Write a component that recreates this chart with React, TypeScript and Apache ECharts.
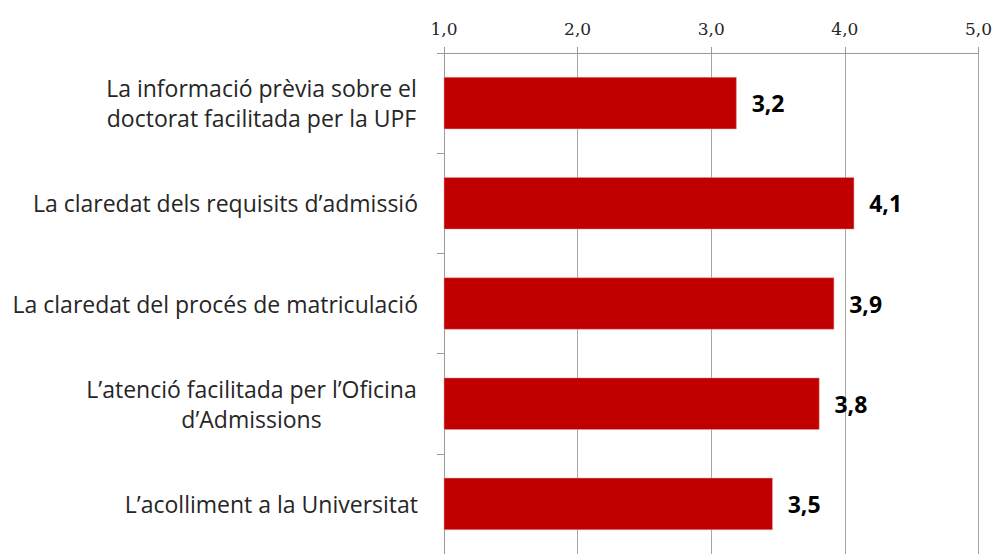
import React, { useEffect, useRef } from "react";
import * as echarts from "echarts";

const categories: string[] = [
  "La informació prèvia sobre el\ndoctorat facilitada per la UPF",
  "La claredat dels requisits d’admissió",
  "La claredat del procés de matriculació",
  "L’atenció facilitada per l’Oficina\nd’Admissions",
  "L’acolliment a la Universitat",
];
const values: number[] = [3.19, 4.07, 3.92, 3.81, 3.46];
const tickMin = 1;
const tickMax = 5;
const tickStep = 1;

const catFamily = "Open Sans";
const catSize = 23;
const catFont = `${catSize}px "${catFamily}"`;

function measure(text: string, font: string): number {
  const c = document.createElement("canvas");
  const ctx = c.getContext("2d");
  if (!ctx) return text.length * 10;
  ctx.font = font;
  return ctx.measureText(text).width;
}

const fmt = (v: number) => v.toFixed(1).replace(".", ",");

export default function App() {
  const ref = useRef<HTMLDivElement>(null);
  useEffect(() => {
    if (!ref.current) return;
    const chart = echarts.init(ref.current, undefined, { renderer: "svg" });
    const widthOf = (s: string) =>
      Math.ceil(Math.max(...s.split("\n").map((l) => measure(l, catFont)))) + 2;
    const catLabel = (s: string) => {
      const lines = s.split("\n");
      if (lines.length === 1) return s;
      const w = widthOf(s);
      return lines.map((l) => `{c${w}|${l}}`).join("\n");
    };
    const rich: Record<string, any> = {};
    categories.forEach((s) => {
      if (s.split("\n").length > 1) {
        const w = widthOf(s);
        rich["c" + w] = {
          width: w,
          align: "center",
          fontFamily: catFamily,
          fontSize: catSize,
          lineHeight: 30,
          color: "#262626",
        };
      }
    });
    chart.setOption({
      animation: false,
      backgroundColor: "#ffffff",
      grid: { left: 444, top: 53, right: 14, bottom: -8, containLabel: false },
      xAxis: {
        type: "value",
        position: "top",
        min: tickMin,
        max: tickMax,
        interval: tickStep,
        axisLine: { show: true, lineStyle: { color: "#9a9a9a", width: 1 } },
        axisTick: { show: true, length: 6, lineStyle: { color: "#9a9a9a" } },
        splitLine: { show: true, lineStyle: { color: "#a6a6a6", width: 1 } },
        axisLabel: {
          formatter: (v: number) => fmt(v),
          fontFamily: "DejaVu Serif",
          fontSize: 17,
          color: "#262626",
          margin: 16,
        },
      },
      yAxis: {
        type: "category",
        inverse: true,
        data: categories,
        axisLine: { show: true, lineStyle: { color: "#9a9a9a", width: 1 } },
        axisTick: { show: true, length: 7, lineStyle: { color: "#9a9a9a" } },
        axisLabel: {
          formatter: (s: string) => catLabel(s),
          rich,
          fontFamily: catFamily,
          fontSize: catSize,
          lineHeight: 30,
          color: "#262626",
          margin: 26,
          align: "right",
        },
      },
      series: [
        {
          type: "bar",
          data: values,
          barCategoryGap: "48%",
          itemStyle: { color: "#C00000", borderColor: "#e8a0a0", borderWidth: 0.5 },
          label: {
            show: true,
            position: "right",
            distance: 15,
            formatter: (p: any) => fmt(p.value),
            fontFamily: "Open Sans",
            fontWeight: "bold",
            fontSize: 23,
            color: "#000000",
          },
        },
      ],
    });
    return () => chart.dispose();
  }, []);
  return (
    <div
      ref={ref}
      style={{ position: "absolute", left: 0, top: 0, width: 995, height: 554 }}
    />
  );
}
